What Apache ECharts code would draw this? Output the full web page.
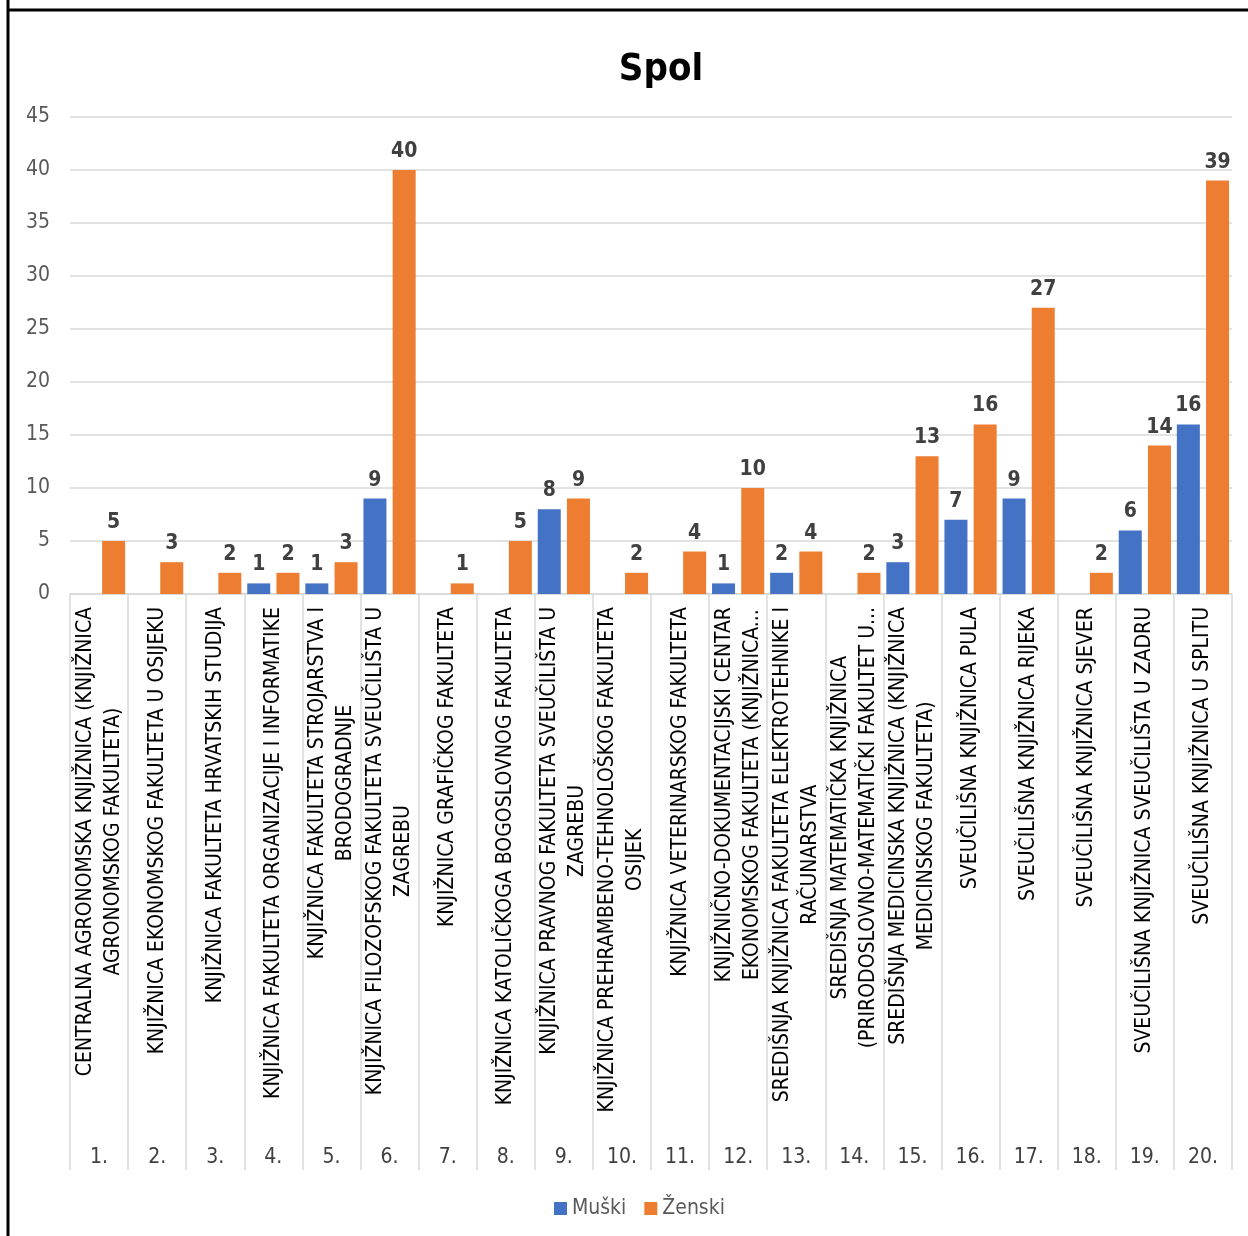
<!DOCTYPE html>
<html>
<head>
<meta charset="utf-8">
<script src="https://cdn.jsdelivr.net/npm/echarts@6/dist/echarts.min.js"></script>
<style>html,body{margin:0;padding:0;background:#fff}#c{width:1248px;height:1236px}</style>
</head>
<body>
<div id="c"></div>
<script>
const categories = [
  "CENTRALNA AGRONOMSKA KNJIŽNICA (KNJIŽNICA\nAGRONOMSKOG FAKULTETA)",
  "KNJIŽNICA EKONOMSKOG FAKULTETA U OSIJEKU",
  "KNJIŽNICA FAKULTETA HRVATSKIH STUDIJA",
  "KNJIŽNICA FAKULTETA ORGANIZACIJE I INFORMATIKE",
  "KNJIŽNICA FAKULTETA STROJARSTVA I\nBRODOGRADNJE",
  "KNJIŽNICA FILOZOFSKOG FAKULTETA SVEUČILIŠTA U\nZAGREBU",
  "KNJIŽNICA GRAFIČKOG FAKULTETA",
  "KNJIŽNICA KATOLIČKOGA BOGOSLOVNOG FAKULTETA",
  "KNJIŽNICA PRAVNOG FAKULTETA SVEUČILIŠTA U\nZAGREBU",
  "KNJIŽNICA PREHRAMBENO-TEHNOLOŠKOG FAKULTETA\nOSIJEK",
  "KNJIŽNICA VETERINARSKOG FAKULTETA",
  "KNJIŽNIČNO-DOKUMENTACIJSKI CENTAR\nEKONOMSKOG FAKULTETA (KNJIŽNICA...",
  "SREDIŠNJA KNJIŽNICA FAKULTETA ELEKTROTEHNIKE I\nRAČUNARSTVA",
  "SREDIŠNJA MATEMATIČKA KNJIŽNICA\n(PRIRODOSLOVNO-MATEMATIČKI FAKULTET U...",
  "SREDIŠNJA MEDICINSKA KNJIŽNICA (KNJIŽNICA\nMEDICINSKOG FAKULTETA)",
  "SVEUČILIŠNA KNJIŽNICA PULA",
  "SVEUČILIŠNA KNJIŽNICA RIJEKA",
  "SVEUČILIŠNA KNJIŽNICA SJEVER",
  "SVEUČILIŠNA KNJIŽNICA SVEUČILIŠTA U ZADRU",
  "SVEUČILIŠNA KNJIŽNICA U SPLITU"
];
const numbers = ["1.","2.","3.","4.","5.","6.","7.","8.","9.","10.","11.","12.","13.","14.","15.","16.","17.","18.","19.","20."];
const muski  = [null,null,null,1,1,9,null,null,8,null,null,1,2,null,3,7,9,null,6,16];
const zenski = [5,3,2,2,3,40,1,5,9,2,4,10,4,2,13,16,27,2,14,39];
const seriesNames = ["Muški","Ženski"];

const FONT = "'Liberation Sans Narrow','DejaVu Sans Condensed','Liberation Sans',sans-serif";
const chart = echarts.init(document.getElementById('c'));
const lbl = {show:true, position:'top', distance:8, color:'#404040', fontWeight:'bold', fontSize:21, fontFamily:FONT};
chart.setOption({
  animation:false,
  backgroundColor:'#fff',
  title:{text:'Spol', left:656, top:46, textAlign:'center',
    textStyle:{fontSize:38, fontWeight:'bold', color:'#000', fontFamily:FONT}},
  legend:{data:seriesNames, left:549, top:1193, icon:'rect', itemWidth:13, itemHeight:13, itemGap:18,
    textStyle:{fontSize:21, color:'#595959', fontFamily:FONT}},
  grid:{left:70, right:16, top:117, bottom:642, containLabel:false},
  xAxis:[{
    type:'category', data:categories, position:'bottom',
    axisLine:{lineStyle:{color:'#d9d9d9', width:1.5}},
    axisTick:{show:true, length:576, interval:0, lineStyle:{color:'#d9d9d9', width:1.5}},
    axisLabel:{interval:0, rotate:90, margin:13,
      formatter:function(v){return '{a|'+v+'}';},
      rich:{a:{align:'center', fontSize:21, lineHeight:28, color:'#000', fontFamily:FONT}}}
  },{
    type:'category', data:numbers, position:'bottom', gridIndex:0,
    axisLine:{show:false}, axisTick:{show:false},
    axisLabel:{interval:0, margin:553, fontSize:21, color:'#404040', fontFamily:FONT}
  }],
  yAxis:{type:'value', min:0, max:45, interval:5,
    axisLine:{show:false}, axisTick:{show:false},
    axisLabel:{margin:20, fontSize:21, color:'#595959', fontFamily:FONT},
    splitLine:{lineStyle:{color:'#d9d9d9', width:1.5}}},
  series:[
    {name:seriesNames[0], type:'bar', data:muski, barWidth:23, barGap:'27%', itemStyle:{color:'#4472C4'}, label:lbl},
    {name:seriesNames[1], type:'bar', data:zenski, barWidth:23, barGap:'27%', itemStyle:{color:'#ED7D31'}, label:lbl}
  ],
  graphic:[
    {type:'line', shape:{x1:8, y1:0, x2:8, y2:1236}, style:{stroke:'#000', lineWidth:3}, silent:true},
    {type:'line', shape:{x1:8, y1:10, x2:1248, y2:10}, style:{stroke:'#000', lineWidth:3}, silent:true}
  ]
});
</script>
</body>
</html>
